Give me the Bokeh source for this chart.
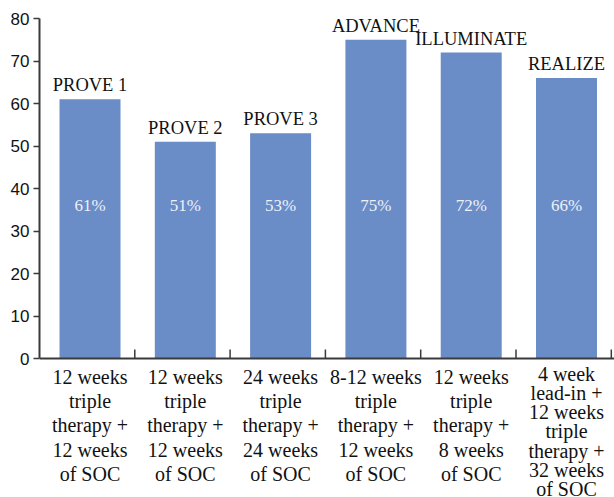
import numpy as np
from bokeh.plotting import figure
from bokeh.models import Range1d, FixedTicker, Span
from bokeh.core.properties import value
from bokeh.embed import file_html
from bokeh.resources import INLINE

trials = ["PROVE 1", "PROVE 2", "PROVE 3", "ADVANCE", "ILLUMINATE", "REALIZE"]
svr_rates = [61, 51, 53, 75, 72, 66]
regimens = [
    "12 weeks\ntriple\ntherapy +\n12 weeks\nof SOC",
    "12 weeks\ntriple\ntherapy +\n12 weeks\nof SOC",
    "24 weeks\ntriple\ntherapy +\n24 weeks\nof SOC",
    "8-12 weeks\ntriple\ntherapy +\n12 weeks\nof SOC",
    "12 weeks\ntriple\ntherapy +\n8 weeks\nof SOC",
    "4 week\nlead-in +\n12 weeks\ntriple\ntherapy +\n32 weeks\nof SOC",
]
y_ticks = [0, 10, 20, 30, 40, 50, 60, 70, 80]

BAR = "#6a8cc7"
AXIS = "#3a3a3a"
SERIF = value("Liberation Serif")

W, H = 614, 497
LEFT, TOP = 39, 18
frame_w = W - LEFT
frame_h = H - TOP
px_per_cat = 95.3
px_per_unit = 340 / 80.0

n = len(trials)
p = figure(width=W, height=H, output_backend="svg", toolbar_location=None,
           x_axis_location=None,
           x_range=Range1d(0, frame_w / px_per_cat),
           y_range=Range1d(80 - frame_h / px_per_unit, 80),
           min_border_left=LEFT, min_border_right=0,
           min_border_top=TOP, min_border_bottom=0)
p.grid.visible = False
p.outline_line_color = None

centers = np.arange(n) + 0.53

p.vbar(x=centers, top=svr_rates, width=0.64, color=BAR, line_color=None)

# x baseline and boundary ticks
p.add_layout(Span(location=0, dimension="width", line_color=AXIS, line_width=2))
bounds_x = np.arange(1, n + 1)
tick_len = 9 / px_per_unit
p.segment(x0=bounds_x, y0=np.zeros(n), x1=bounds_x, y1=np.full(n, tick_len),
          line_color=AXIS, line_width=1.5)

# trial names above bars
p.text(x=centers, y=svr_rates, text=trials, text_align="center",
       text_baseline="bottom", y_offset=-4, text_font=SERIF,
       text_font_size="18.5px", text_color="#111111")

# percentages inside bars
p.text(x=centers, y=np.full(n, 36.0), text=[f"{v}%" for v in svr_rates],
       text_align="center", text_baseline="middle", text_font=SERIF,
       text_font_size="17px", text_color="#eef1f8")

# category labels below the axis
p.text(x=centers[:-1], y=np.zeros(n - 1), text=regimens[:-1], text_align="center",
       text_baseline="top", y_offset=7, text_font=SERIF, text_font_size="20px",
       text_line_height=1.11, text_color="#111111")
p.text(x=centers[-1:], y=np.zeros(1), text=regimens[-1:], text_align="center",
       text_baseline="top", y_offset=4, text_font=SERIF, text_font_size="20px",
       text_line_height=0.875, text_color="#111111")

ya = p.yaxis[0]
ya.ticker = FixedTicker(ticks=y_ticks, minor_ticks=[])
ya.bounds = (0, 80)
ya.axis_line_color = AXIS
ya.axis_line_width = 2
ya.major_tick_line_color = AXIS
ya.major_tick_line_width = 1.5
ya.major_tick_out = 6
ya.major_tick_in = 0
ya.minor_tick_line_color = None
ya.major_label_standoff = 4
ya.major_label_text_font = "Liberation Sans"
ya.major_label_text_font_size = "17px"
ya.major_label_text_color = "#111111"

open("out.html", "w").write(file_html(p, INLINE))
